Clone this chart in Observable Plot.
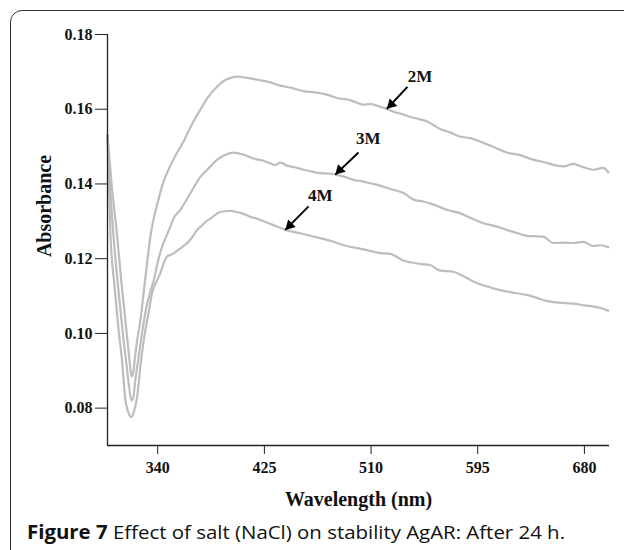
<!DOCTYPE html>
<html><head><meta charset="utf-8">
<script src="https://cdn.jsdelivr.net/npm/d3@7"></script>
<script src="https://cdn.jsdelivr.net/npm/@observablehq/plot@0.6"></script>
<style>
html,body{margin:0;padding:0;background:#fff;}
#wrap{position:relative;width:624px;height:550px;overflow:hidden;background:#fff;}
#frame{position:absolute;left:10px;top:10px;width:700px;height:600px;border:1.6px solid #333;border-radius:12px;box-sizing:border-box;}
#chart{position:absolute;left:0;top:0;}
#caption{position:absolute;left:27px;top:523px;font-family:"Open Sans",sans-serif;font-size:19px;line-height:19px;white-space:nowrap;color:#111;transform-origin:0 0;}
#caption b{font-weight:700;}
</style></head><body>
<div id="wrap"><div id="frame"></div><div id="chart"></div><div id="caption"><b>Figure 7</b> Effect of salt (NaCl) on stability AgAR: After 24 h.</div></div>
<script>
// Wavelength (nm), absorbance pairs
const series2M = [[300,0.153],[303,0.141],[307.7,0.126],[311,0.114],[315,0.101],[317.5,0.093],[319,0.0885],[320.5,0.0895],[322,0.094],[324,0.099],[326,0.103],[328.5,0.110],[331.6,0.119],[334,0.1255],[337,0.131],[340.6,0.1358],[344,0.140],[348.6,0.1438],[354,0.1475],[360.5,0.1513],[367,0.1558],[374,0.1599],[380,0.1632],[387.5,0.1661],[395,0.168],[403.5,0.1687],[411,0.1684],[419.4,0.1679],[429.7,0.1672],[437.7,0.1663],[446,0.1658],[456.2,0.1648],[465,0.1645],[474.8,0.1639],[482.8,0.163],[490.8,0.1626],[496,0.1621],[504,0.1612],[509.3,0.1614],[515,0.1609],[522.6,0.1601],[529,0.1592],[535.8,0.1586],[543.8,0.1577],[554.4,0.1568],[565,0.1547],[573,0.1538],[580.9,0.1527],[590,0.1522],[599.5,0.151],[609,0.1497],[618.1,0.1484],[628,0.1478],[639.3,0.1465],[648,0.1458],[657.9,0.1449],[664,0.1447],[671.1,0.1454],[679,0.1445],[687,0.1438],[695,0.1443],[699,0.1431]];
const series3M = [[300,0.153],[302.5,0.137],[304.8,0.126],[308,0.114],[311.9,0.101],[315,0.092],[317.5,0.085],[319,0.0821],[320.5,0.0828],[322,0.087],[324.5,0.093],[327.9,0.101],[331,0.107],[334,0.111],[336.9,0.1143],[340,0.119],[343.5,0.1232],[346.2,0.1255],[350,0.1285],[353,0.131],[358.1,0.1331],[366,0.1375],[374,0.1419],[380,0.144],[387.5,0.1465],[393,0.1477],[400.3,0.1484],[408.2,0.1479],[416.2,0.1468],[424.2,0.1462],[429.7,0.1455],[433.7,0.1451],[437.7,0.1457],[443,0.1449],[450,0.1444],[456.2,0.1438],[463,0.1433],[469.5,0.1429],[476,0.1428],[481.5,0.1425],[489,0.1419],[496,0.1411],[503,0.1407],[509.3,0.1402],[516,0.1397],[523,0.1389],[529,0.1383],[535.8,0.1376],[543.8,0.1358],[551.7,0.1353],[557,0.1348],[565,0.1338],[570.4,0.1331],[580.9,0.1322],[590,0.1308],[599.5,0.1295],[609,0.1287],[618.1,0.1277],[626,0.1269],[634,0.1261],[641,0.126],[647.2,0.1259],[655.2,0.1242],[663,0.1243],[671.1,0.1242],[679,0.1245],[687,0.1234],[693,0.1236],[699,0.1231]];
const series4M = [[300,0.153],[302.4,0.126],[305.5,0.113],[308.8,0.101],[311.5,0.093],[314.3,0.0821],[316.5,0.079],[319,0.0776],[321,0.079],[323.6,0.083],[326.5,0.092],[330.2,0.101],[333,0.106],[335.5,0.1108],[338.5,0.1135],[342.2,0.1162],[345,0.119],[347.5,0.1206],[350.1,0.121],[353,0.1215],[357,0.1225],[361,0.1235],[364.7,0.1246],[368,0.126],[371.4,0.1277],[374,0.1285],[378,0.1298],[383,0.131],[388.3,0.1323],[393,0.1327],[397.9,0.1328],[403,0.1325],[408.2,0.132],[414,0.1312],[419.4,0.1307],[427.3,0.1296],[433,0.1289],[441.7,0.1277],[453.6,0.1268],[464.2,0.1259],[477.5,0.1248],[490.8,0.1234],[504,0.1225],[517.3,0.1215],[525.2,0.1213],[535.8,0.1195],[549.1,0.1186],[557,0.1183],[565,0.1168],[575.6,0.1165],[581.3,0.1157],[591.5,0.1139],[600,0.1128],[612.8,0.1116],[622,0.111],[634,0.1103],[642,0.1095],[649.9,0.1087],[657,0.1083],[665.9,0.1081],[673,0.1079],[680,0.1075],[687,0.1072],[693,0.1068],[699,0.1061]];

const seriesNames = ["2M", "3M", "4M"];
const xTicks = [340, 425, 510, 595, 680];
const yTicks = [0.08, 0.10, 0.12, 0.14, 0.16, 0.18];

// annotation arrows (data coordinates)
const arrowLabels = ["2M", "3M", "4M"];
const arrowStartX = [539, 500, 460.2];
const arrowStartY = [0.166, 0.1484, 0.134];
const arrowTipX = [522.6, 481.5, 441.7];
const arrowTipY = [0.1601, 0.1425, 0.1277];
const labelX = [549.1, 507.7, 469.5];
const labelY = [0.1687, 0.1521, 0.1368];

const rows = [];
[series2M, series3M, series4M].forEach((s, i) => s.forEach(([nm, a]) => rows.push({series: seriesNames[i], nm, abs: a})));
const arrows = arrowLabels.map((label, i) => ({label, x1: arrowStartX[i], y1: arrowStartY[i], x2: arrowTipX[i], y2: arrowTipY[i], lx: labelX[i], ly: labelY[i]}));

const plot = Plot.plot({
  width: 624, height: 520,
  marginLeft: 107, marginRight: 15, marginTop: 34, marginBottom: 75,
  style: {fontFamily: '"Liberation Serif", "Times New Roman", serif', fontSize: "16px", fontWeight: "bold", color: "#111", background: "transparent", overflow: "visible"},
  x: {domain: [300, 700]},
  y: {domain: [0.07, 0.18]},
  marks: [
    Plot.line(rows, {x: "nm", y: "abs", z: "series", stroke: "#bdbdbd", strokeWidth: 2.2, curve: "monotone-x"}),
    Plot.ruleX([300], {stroke: "#222", strokeWidth: 1.3}),
    Plot.ruleY([0.07], {stroke: "#222", strokeWidth: 1.3}),
    Plot.axisY({ticks: yTicks, tickFormat: d3.format(".2f"), tickSize: 12, tickPadding: 3, label: null, stroke: "#222", fontSize: 16}),
    Plot.axisX({ticks: xTicks, tickFormat: d => String(d), tickSize: 9, tickPadding: 7, label: null, stroke: "#222", fontSize: 16}),
    Plot.link(arrows, {x1: "x1", y1: "y1", x2: "x2", y2: "y2", stroke: "#000", strokeWidth: 2}),
    Plot.dot(arrows, {x: "x2", y: "y2", symbol: "triangle", r: 4, fill: "#000", stroke: null, rotate: 225, dx: 4.4, dy: -4.4}),
    Plot.text(arrows, {x: "lx", y: "ly", text: "label", fontSize: 17}),
    Plot.text(["Wavelength (nm)"], {frameAnchor: "bottom", dy: 60, fontSize: 20}),
    Plot.text(["Absorbance"], {frameAnchor: "left", textAnchor: "middle", dx: -63, dy: -34, rotate: -90, fontSize: 20})
  ]
});
document.getElementById("chart").appendChild(plot);

function fitCaption() {
  const c = document.getElementById("caption");
  c.style.transform = "none";
  const w = c.getBoundingClientRect().width;
  if (w > 0) c.style.transform = `scaleX(${538 / w})`;
}
fitCaption();
if (document.fonts && document.fonts.ready) document.fonts.ready.then(fitCaption);
</script>
</body></html>
